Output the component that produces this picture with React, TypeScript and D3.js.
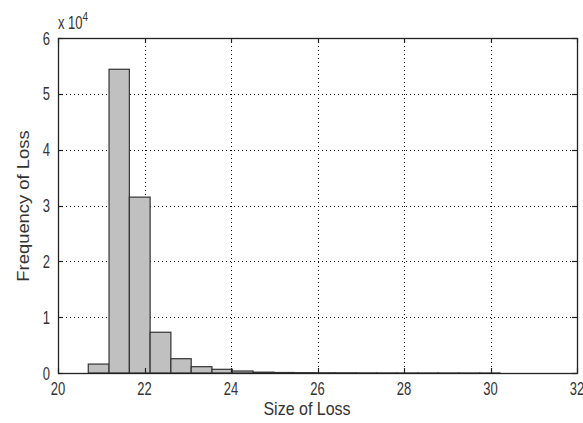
import { useRef, useEffect } from "react";
import * as d3 from "d3";

// histogram bin edges (20 bins) and counts
const binEdges = [20.70, 21.18, 21.65, 22.13, 22.61, 23.08, 23.56, 24.03, 24.51, 24.99, 25.46,
  25.94, 26.41, 26.89, 27.37, 27.84, 28.32, 28.79, 29.27, 29.75, 30.22];
const counts = [1600, 54400, 31500, 7300, 2560, 1130, 660, 360, 150, 90,
  60, 40, 30, 20, 15, 10, 8, 5, 3, 2];
const xTicks = [20, 22, 24, 26, 28, 30, 32];
const yTicks = [0, 1, 2, 3, 4, 5, 6];

export default function App() {
  const ref = useRef<SVGSVGElement>(null);

  const chartAttr = {
    width: 583,
    height: 423,
    left: 58,
    right: 577,
    top: 38,
    bottom: 373,
  };

  useEffect(() => {
    const svg = d3.select(ref.current);
    svg.selectAll("*").remove();

    const x = d3.scaleLinear().domain([20, 32]).range([chartAttr.left, chartAttr.right]);
    const y = d3.scaleLinear().domain([0, 6]).range([chartAttr.bottom, chartAttr.top]);

    const font = "'Liberation Sans', Arial, sans-serif";
    const textColor = "#333";

    svg.append("rect")
      .attr("width", chartAttr.width)
      .attr("height", chartAttr.height)
      .attr("fill", "#fff");

    // grid
    const grid = svg.append("g")
      .attr("stroke", "#000")
      .attr("stroke-width", 1)
      .attr("stroke-dasharray", "1,3");
    xTicks.slice(1, -1).forEach(t => {
      grid.append("line")
        .attr("x1", Math.round(x(t)) + 0.5).attr("x2", Math.round(x(t)) + 0.5)
        .attr("y1", chartAttr.top).attr("y2", chartAttr.bottom);
    });
    yTicks.slice(1, -1).forEach(t => {
      grid.append("line")
        .attr("y1", Math.round(y(t)) + 0.5).attr("y2", Math.round(y(t)) + 0.5)
        .attr("x1", chartAttr.left).attr("x2", chartAttr.right);
    });

    // bars
    svg.append("g")
      .selectAll("rect")
      .data(counts)
      .enter()
      .append("rect")
      .attr("x", (d, i) => x(binEdges[i]))
      .attr("width", (d, i) => x(binEdges[i + 1]) - x(binEdges[i]))
      .attr("y", d => y(d / 10000))
      .attr("height", d => chartAttr.bottom - y(d / 10000))
      .attr("fill", "#c0c0c0")
      .attr("stroke", "#333")
      .attr("stroke-width", 1.2);

    // box
    svg.append("rect")
      .attr("x", chartAttr.left + 0.5)
      .attr("y", chartAttr.top + 0.5)
      .attr("width", chartAttr.right - chartAttr.left)
      .attr("height", chartAttr.bottom - chartAttr.top)
      .attr("fill", "none")
      .attr("stroke", "#222")
      .attr("stroke-width", 1.3);

    // ticks on all sides
    const ticks = svg.append("g").attr("stroke", "#222").attr("stroke-width", 1.2);
    xTicks.forEach(t => {
      const xp = Math.round(x(t)) + 0.5;
      ticks.append("line").attr("x1", xp).attr("x2", xp).attr("y1", chartAttr.bottom).attr("y2", chartAttr.bottom - 5);
      ticks.append("line").attr("x1", xp).attr("x2", xp).attr("y1", chartAttr.top).attr("y2", chartAttr.top + 5);
    });
    yTicks.forEach(t => {
      const yp = Math.round(y(t)) + 0.5;
      ticks.append("line").attr("y1", yp).attr("y2", yp).attr("x1", chartAttr.left).attr("x2", chartAttr.left + 5);
      ticks.append("line").attr("y1", yp).attr("y2", yp).attr("x1", chartAttr.right).attr("x2", chartAttr.right - 5);
    });

    // x tick labels
    xTicks.forEach(t => {
      svg.append("text")
        .attr("transform", `translate(${x(t)},395) scale(1,1.35)`)
        .attr("text-anchor", "middle")
        .attr("font-family", font)
        .attr("font-size", 13)
        .attr("fill", textColor)
        .text(t);
    });

    // y tick labels
    yTicks.forEach(t => {
      svg.append("text")
        .attr("transform", `translate(50,${y(t) + 6.5}) scale(1,1.35)`)
        .attr("text-anchor", "end")
        .attr("font-family", font)
        .attr("font-size", 13)
        .attr("fill", textColor)
        .text(t);
    });

    // exponent
    const expo = svg.append("text")
      .attr("transform", "translate(58,29) scale(1,1.35)")
      .attr("font-family", font)
      .attr("font-size", 13)
      .attr("fill", textColor);
    expo.append("tspan").text("x 10");
    expo.append("tspan").attr("dy", -6).attr("font-size", 10).text("4");

    // axis titles
    svg.append("text")
      .attr("transform", "translate(307,415) scale(1,1.15)")
      .attr("text-anchor", "middle")
      .attr("font-family", font)
      .attr("font-size", 16)
      .attr("fill", textColor)
      .text("Size of Loss");

    svg.append("text")
      .attr("transform", "translate(29,206) rotate(-90) scale(1.15,1)")
      .attr("text-anchor", "middle")
      .attr("font-family", font)
      .attr("font-size", 16)
      .attr("fill", textColor)
      .text("Frequency of Loss");
  }, []);

  return (
    <div>
      <svg
        ref={ref}
        width={chartAttr.width}
        height={chartAttr.height}
        style={{ position: "absolute", left: 0, top: 0 }}
      />
    </div>
  );
}
